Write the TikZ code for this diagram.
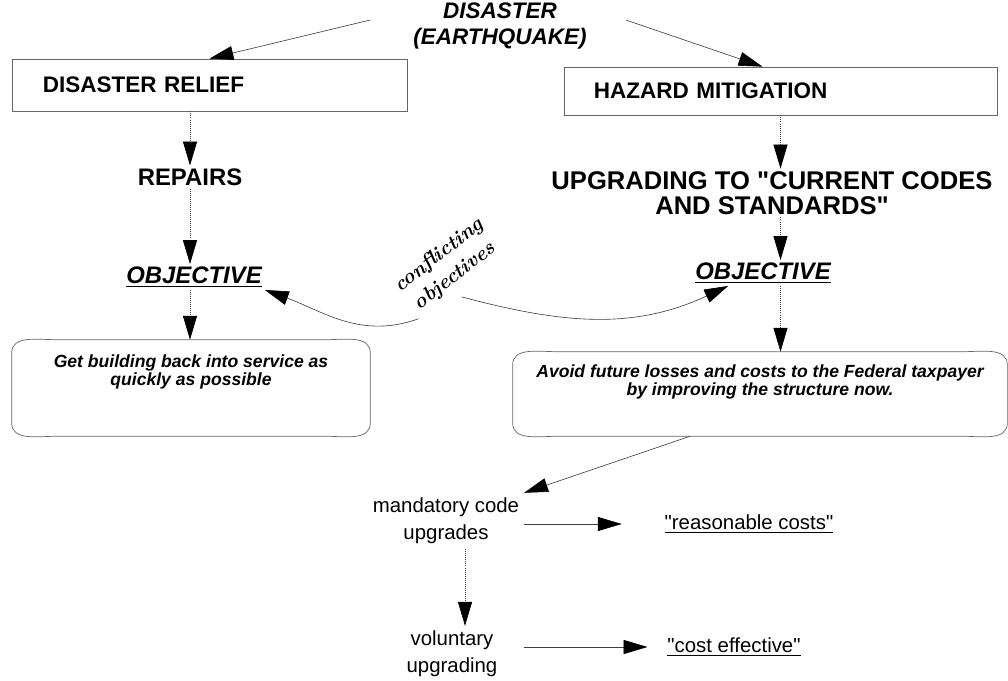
\documentclass[tikz,border=0pt]{standalone}
\usepackage{fontspec}
\setsansfont{Liberation Sans}
\renewcommand{\familydefault}{\sfdefault}
\usetikzlibrary{arrows.meta}

\tikzset{
	heading/.style={font=\fontsize{17}{17}\selectfont\bfseries, align=center, inner sep=2pt},
	aim/.style={font=\fontsize{17}{17}\selectfont\bfseries\itshape, inner sep=2pt},
	stage/.style={draw=black!60, line width=0.5pt, align=left, inner ysep=0pt, font=\fontsize{16}{18}\selectfont\bfseries},
	goalbox/.style={inner sep=0pt},
	goal/.style={font=\fontsize{12.5}{12.5}\selectfont\bfseries\itshape, align=center},
	note/.style={font=\fontsize{14.5}{19.5}\selectfont, align=center},
	rim/.style={draw=black!60, line width=0.5pt},
	link/.style={-{Triangle[length=17pt,width=10pt,color=black]}, draw=black!75, line width=0.45pt},
	down/.style={link, densely dotted}
}

% rounded frame with flat corners round a goal
\newcommand{\goalframe}[1]{%
	\draw[rim] ([xshift=1.1cm]#1.north west) -- ([xshift=-1.1cm]#1.north east)
		to[out=0,in=90] ([yshift=-0.33cm]#1.north east) -- ([yshift=0.33cm]#1.south east)
		to[out=-90,in=0] ([xshift=-1.1cm]#1.south east) -- ([xshift=1.1cm]#1.south west)
		to[out=180,in=-90] ([yshift=0.33cm]#1.south west) -- ([yshift=-0.33cm]#1.north west)
		to[out=90,in=180] cycle;}

\newcommand{\qq}[1]{\textquotedbl#1\textquotedbl}

\begin{document}
\begin{tikzpicture}[x=0.025cm, y=-0.025cm]
	\useasboundingbox (0,0) rectangle (1008,681);

	%top
	\node[heading, font=\fontsize{16}{18}\selectfont\bfseries\itshape] (quake) at (500,26) {DISASTER\\(EARTHQUAKE)};
	\node[stage, minimum width=9.875cm, minimum height=1.3cm, text width=8.325cm, inner xsep=0.775cm] (relief) at (209.5,85) {DISASTER RELIEF};
	\node[stage, minimum width=10.825cm, minimum height=1.2cm, text width=9.325cm, inner xsep=0.75cm] (hazard) at (780.5,91) {HAZARD MITIGATION};

	%left column
	\node[heading] (repairs) at (190,177) {REPAIRS};
	\node[aim] (objL) at (194,277) {\underline{OBJECTIVE}};
	\node[goalbox, minimum width=8.95cm, minimum height=2.4cm] (boxL) at (191,388) {};
	\node[goal] (goalL) at (191,372) {Get building back into service as\\quickly as possible};

	%right column
	\node[heading, font=\fontsize{18.2}{17.5}\selectfont\bfseries] (upgrade) at (772,193) {UPGRADING TO \qq{CURRENT CODES\\AND STANDARDS}};
	\node[aim] (objR) at (763,273) {\underline{OBJECTIVE}};
	\node[goalbox, minimum width=12.35cm, minimum height=2.1cm] (boxR) at (760,394) {};
	\node[goal] (goalR) at (760,382) {Avoid future losses and costs to the Federal taxpayer\\by improving the structure now.};

	\goalframe{boxL}
	\goalframe{boxR}

	%between the two objectives
	\node[font=\fontsize{14.5}{18.6}\selectfont\rmfamily\bfseries\itshape, align=center, rotate=38, inner sep=1pt] (conf) at (447,266) {conflicting\\objectives};

	%bottom
	\node[note] (mand) at (446,521) {mandatory code\\upgrades};
	\node[note] (reasonable) at (749,524) {\underline{\qq{reasonable costs}}};
	\node[note] (vol) at (452,654) {voluntary\\upgrading};
	\node[note] (effective) at (734,647) {\underline{\qq{cost effective}}};

	%arrows
	\draw[link] ([xshift=-1cm,yshift=0.15cm]quake.west) -- (relief.north);
	\draw[link] ([xshift=0.9cm,yshift=0.15cm]quake.east) -- ([xshift=-0.45cm]hazard.north);

	\draw[down] (relief.south -| repairs) -- (repairs.north);
	\draw[down] (repairs.south) -- (repairs.south |- objL.north);
	\draw[down] (objL.south -| repairs) -- (repairs |- boxL.north);

	\draw[down] (hazard.south) -- (hazard.south |- upgrade.north);
	\draw[down] (hazard.south |- upgrade.south) -- (hazard.south |- objR.north);
	\draw[down] (hazard.south |- objR.south) -- (hazard.south |- boxR.north);

	\draw[link] (conf.south west) to[out=200,in=-20] (objL.south east);
	\draw[link] ([yshift=-0.3cm]conf.south) to[out=-15,in=205] ([xshift=0.9cm]objR.south west);

	\draw[link] ([xshift=-1.75cm]boxR.south) -- (mand.north east);
	\draw[link, shorten >=0.95cm] (mand.east |- reasonable) -- (reasonable.west);
	\draw[down] ([xshift=0.475cm]mand.south) -- ([xshift=0.475cm]mand.south |- vol.north);
	\draw[link, shorten >=0.375cm] (mand.east |- effective) -- (effective.west);
\end{tikzpicture}
\end{document}
